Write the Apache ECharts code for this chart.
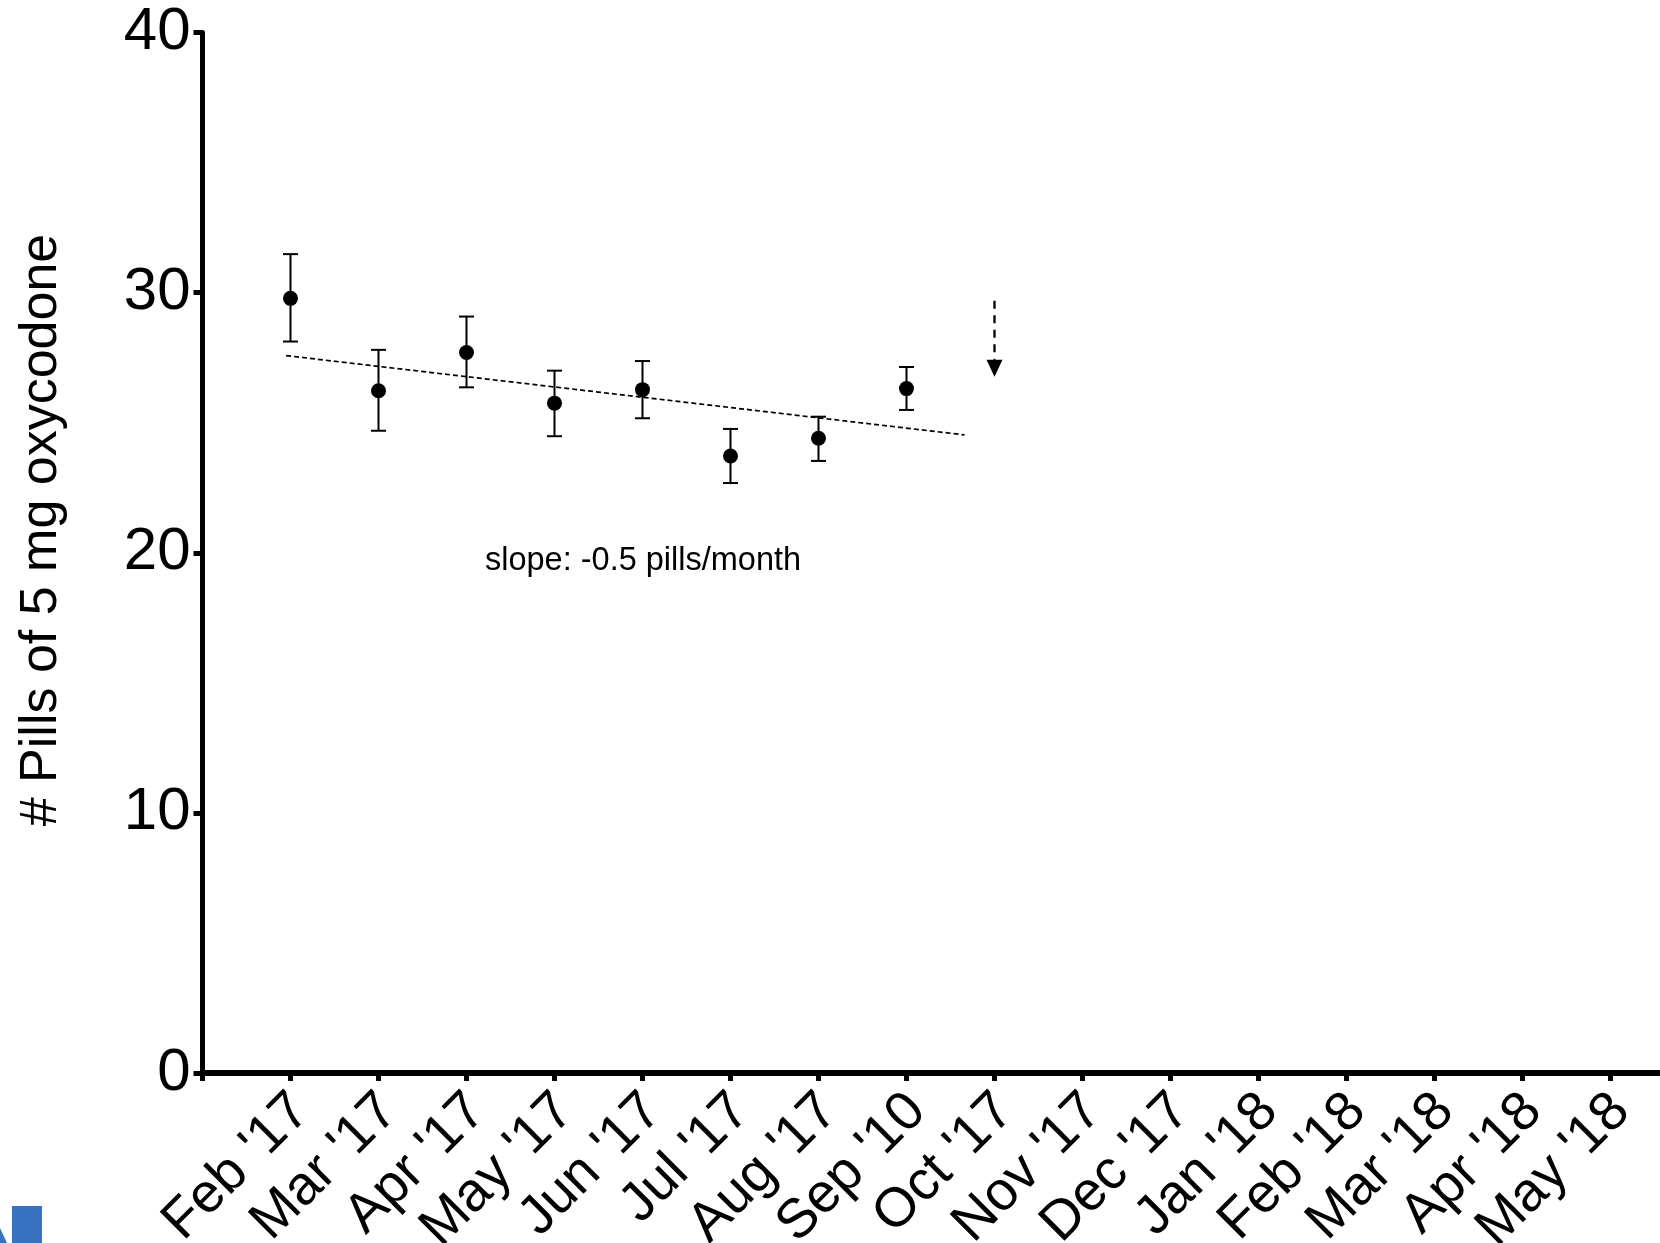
<!DOCTYPE html>
<html>
<head>
<meta charset="utf-8">
<script src="https://cdn.jsdelivr.net/npm/echarts@6/dist/echarts.min.js"></script>
<style>
html,body{margin:0;padding:0;background:#fff;overflow:hidden;}
#chart{width:1660px;height:1243px;}
</style>
</head>
<body>
<div id="chart"></div>
<script>
// ---- data ----
const tickLabels = ['', "Feb '17", "Mar '17", "Apr '17", "May '17", "Jun '17", "Jul '17", "Aug '17", "Sep '10", "Oct '17", "Nov '17", "Dec '17", "Jan '18", "Feb '18", "Mar '18", "Apr '18", "May '18"];
const yTicks = [0, 10, 20, 30, 40];
const pointMonth = [1, 2, 3, 4, 5, 6, 7, 8];
const meanPills = [29.78, 26.23, 27.70, 25.75, 26.27, 23.72, 24.40, 26.31];
const errLow   = [28.12, 24.69, 26.36, 24.48, 25.17, 22.68, 23.53, 25.49];
const errHigh  = [31.48, 27.80, 29.08, 27.00, 27.37, 24.76, 25.23, 27.14];
const trendX = [0.95, 8.66];
const trendY = [27.58, 24.53];
const arrowX = [9];
const arrowFrom = [29.69];
const arrowTo = [26.77];
const slopeText = 'slope: -0.5 pills/month';
const yTitle = '# Pills of 5 mg oxycodone';

const FONT = '"Liberation Sans", Arial, Helvetica, sans-serif';
const chart = echarts.init(document.getElementById('chart'), null, {renderer: 'canvas'});

const errData = pointMonth.map((m, i) => [m, errLow[i], errHigh[i]]);
const dotData = pointMonth.map((m, i) => [m, meanPills[i]]);
const trendData = trendX.map((x, i) => [x, trendY[i]]);
const arrowData = arrowX.map((x, i) => [x, arrowFrom[i], arrowTo[i]]);

const option = {
  backgroundColor: '#fff',
  animation: false,
  grid: {left: 202.5, top: 32.5, bottom: 170, width: 1496, containLabel: false, outerBoundsMode: 'none'},
  xAxis: {
    type: 'value', min: 0, max: 17, interval: 1,
    splitLine: {show: false},
    axisLine: {show: true, onZero: false, lineStyle: {color: '#000', width: 6}},
    axisTick: {show: true, length: 8, lineStyle: {color: '#000', width: 5}},
    axisLabel: {
      rotate: 45, margin: 19, fontSize: 55, lineHeight: 30, fontFamily: FONT, color: '#000',
      verticalAlign: 'top',
      formatter: v => (Number.isInteger(v) && v < tickLabels.length) ? tickLabels[v] : ''
    }
  },
  yAxis: {
    type: 'value', min: yTicks[0], max: yTicks[yTicks.length - 1], interval: 10,
    splitLine: {show: false},
    axisLine: {show: true, lineStyle: {color: '#000', width: 5}},
    axisTick: {show: true, length: 9, lineStyle: {color: '#000', width: 5}},
    axisLabel: {margin: 12, fontSize: 60, fontFamily: FONT, color: '#000'}
  },
  graphic: [
    {type: 'text', x: 42, y: 530, rotation: Math.PI / 2,
     style: {text: yTitle, font: '52px ' + FONT, fill: '#000', align: 'center', verticalAlign: 'middle'}},
    {type: 'text', x: 485, y: 561,
     style: {text: slopeText, font: '32.5px ' + FONT, fill: '#000', align: 'left', verticalAlign: 'middle'}},
    {type: 'rect', shape: {x: 12, y: 1206, width: 30, height: 40}, style: {fill: '#3a72c2'}},
    {type: 'polygon', shape: {points: [[0, 1228], [7, 1243], [0, 1243]]}, style: {fill: '#3a72c2'}}
  ],
  series: [
    {
      type: 'line', data: trendData, showSymbol: false, symbol: 'none',
      lineStyle: {color: '#000', width: 1.7, type: [5, 3]}, z: 2
    },
    {
      type: 'custom', data: errData, z: 3,
      renderItem: (params, api) => {
        const x = api.value(0);
        const lo = api.coord([x, api.value(1)]);
        const hi = api.coord([x, api.value(2)]);
        const w = 7.5;
        const st = {stroke: '#000', lineWidth: 2};
        return {type: 'group', children: [
          {type: 'line', shape: {x1: lo[0], y1: lo[1], x2: hi[0], y2: hi[1]}, style: st},
          {type: 'line', shape: {x1: lo[0] - w, y1: lo[1], x2: lo[0] + w, y2: lo[1]}, style: st},
          {type: 'line', shape: {x1: hi[0] - w, y1: hi[1], x2: hi[0] + w, y2: hi[1]}, style: st}
        ]};
      }
    },
    {
      type: 'scatter', data: dotData, symbol: 'circle', symbolSize: 15,
      itemStyle: {color: '#000', opacity: 1}, z: 4
    },
    {
      type: 'custom', data: arrowData, z: 3,
      renderItem: (params, api) => {
        const x = api.value(0);
        const a = api.coord([x, api.value(1)]);
        const tip = api.coord([x, api.value(2)]);
        const headH = 17, headW = 8;
        return {type: 'group', children: [
          {type: 'line', shape: {x1: a[0], y1: a[1], x2: tip[0], y2: tip[1] - headH},
           style: {stroke: '#000', lineWidth: 2.3, lineDash: [8, 6.5]}},
          {type: 'polygon', shape: {points: [[tip[0] - headW, tip[1] - headH], [tip[0] + headW, tip[1] - headH], [tip[0], tip[1]]]},
           style: {fill: '#000'}}
        ]};
      }
    }
  ]
};
chart.setOption(option);
</script>
</body>
</html>
